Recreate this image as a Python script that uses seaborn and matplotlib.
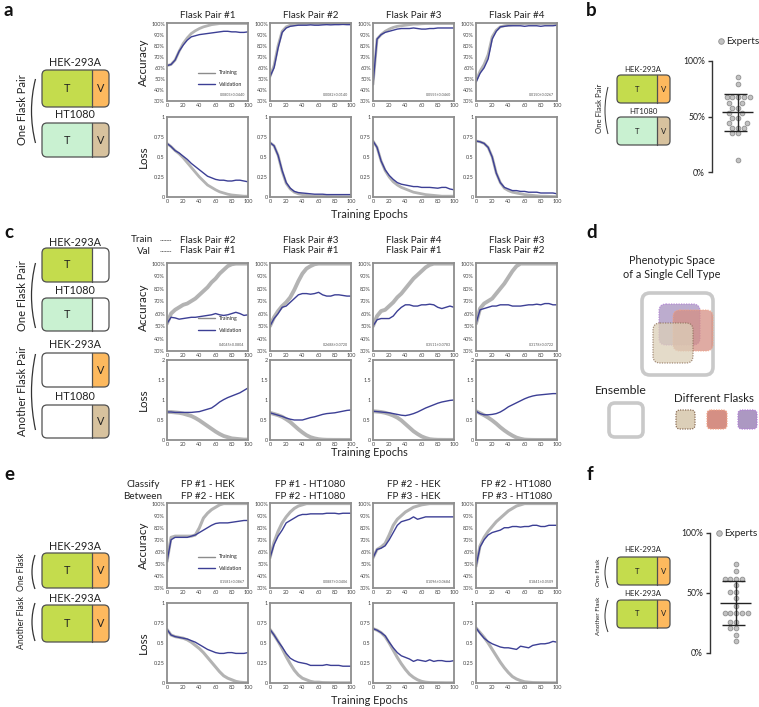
import math
import numpy as np
import pandas as pd
import matplotlib
matplotlib.use("Agg")
import matplotlib.pyplot as plt
import seaborn as sns
from matplotlib.patches import FancyBboxPatch, Rectangle, Arc
from matplotlib.lines import Line2D

# ---------------- data ----------------
EPOCHS = [0, 5, 10, 15, 20, 25, 30, 35, 40, 45, 50, 55, 60, 65, 70, 75, 80, 85, 90, 95, 100]

A_TITLES = ["Flask Pair #1", "Flask Pair #2", "Flask Pair #3", "Flask Pair #4"]
A_TRAIN_ACC = [
    [62, 63, 67, 75, 82, 87, 91, 93.5, 95.5, 97, 98, 99, 99.5, 100, 100, 100, 100, 100, 100, 100, 100],
    [52, 62, 80, 93, 97, 98.5, 99, 99.5, 99.8, 100, 100, 100, 100, 100, 100, 100, 100, 100, 100, 100, 100],
    [45, 86, 90, 93, 95, 96.5, 97.5, 98, 98.5, 99, 99.5, 99.5, 99.8, 100, 100, 100, 100, 100, 100, 100, 100],
    [48, 57, 63, 72, 88, 94, 97, 98, 98.5, 99, 99.5, 99.8, 100, 100, 100, 100, 100, 100, 100, 100, 100],
]
A_VAL_ACC = [
    [62, 63, 67, 75, 80.5, 85, 88, 89, 90, 90.5, 91, 91.5, 92, 92.5, 93, 93, 92.5, 92.5, 92, 92, 92.5],
    [52, 60, 78, 92, 96, 97.5, 98, 98.5, 98.5, 98.5, 98.8, 98.5, 98.5, 98.8, 99, 98.8, 99, 99, 99.2, 99, 99],
    [45, 86, 90, 92, 93, 94, 95, 95.5, 95.5, 95.5, 96, 95.5, 95, 95, 95.5, 95.5, 96, 96, 96, 96, 96],
    [47, 55, 60, 68, 86, 93, 97, 97.5, 98, 98, 98, 98, 97.5, 98, 98, 98, 97.5, 98, 98, 98, 98.5],
]
A_TRAIN_LOSS = [
    [0.67, 0.63, 0.58, 0.54, 0.49, 0.43, 0.37, 0.31, 0.25, 0.20, 0.15, 0.12, 0.09, 0.065, 0.05, 0.035, 0.025, 0.02, 0.015, 0.01, 0.01],
    [0.68, 0.64, 0.52, 0.32, 0.17, 0.10, 0.06, 0.04, 0.03, 0.02, 0.015, 0.01, 0.01, 0.008, 0.006, 0.005, 0.004, 0.004, 0.003, 0.003, 0.003],
    [0.70, 0.62, 0.45, 0.33, 0.25, 0.19, 0.15, 0.12, 0.10, 0.08, 0.06, 0.05, 0.04, 0.03, 0.025, 0.02, 0.015, 0.01, 0.01, 0.01, 0.01],
    [0.70, 0.69, 0.67, 0.62, 0.50, 0.30, 0.18, 0.11, 0.08, 0.06, 0.05, 0.04, 0.03, 0.025, 0.02, 0.015, 0.01, 0.01, 0.008, 0.006, 0.005],
]
A_VAL_LOSS = [
    [0.67, 0.63, 0.58, 0.55, 0.51, 0.47, 0.42, 0.38, 0.34, 0.30, 0.26, 0.24, 0.22, 0.21, 0.21, 0.20, 0.20, 0.21, 0.21, 0.20, 0.19],
    [0.68, 0.64, 0.52, 0.33, 0.18, 0.11, 0.07, 0.055, 0.05, 0.045, 0.04, 0.035, 0.035, 0.035, 0.03, 0.03, 0.03, 0.03, 0.03, 0.03, 0.03],
    [0.70, 0.62, 0.45, 0.34, 0.27, 0.22, 0.18, 0.16, 0.15, 0.14, 0.13, 0.13, 0.12, 0.12, 0.12, 0.115, 0.11, 0.12, 0.12, 0.10, 0.09],
    [0.70, 0.69, 0.67, 0.62, 0.50, 0.30, 0.18, 0.12, 0.10, 0.08, 0.08, 0.07, 0.07, 0.06, 0.06, 0.06, 0.05, 0.05, 0.05, 0.05, 0.04],
]
A_NOTES = ["0.0803±0.0440", "0.0082±0.0140", "0.0555±0.0460", "0.0150±0.0267"]

C_TITLES = ["Flask Pair #2\nFlask Pair #1", "Flask Pair #3\nFlask Pair #1",
            "Flask Pair #4\nFlask Pair #1", "Flask Pair #3\nFlask Pair #2"]
C_TRAIN_ACC = [
    [52, 60, 63, 65, 67, 68, 70, 72, 75, 78, 81, 85, 88, 92, 95, 98, 99.5, 100, 100, 100, 100],
    [50, 57, 62, 66, 69, 73, 79, 86, 92, 96, 98, 99.5, 100, 100, 100, 100, 100, 100, 100, 100, 100],
    [50, 58, 62, 63, 66, 69, 73, 76, 80, 84, 88, 91, 94, 97, 99, 100, 100, 100, 100, 100, 100],
    [52, 64, 68, 70, 72, 76, 80, 84, 89, 94, 98, 100, 100, 100, 100, 100, 100, 100, 100, 100, 100],
]
C_VAL_ACC = [
    [52, 57, 56.5, 55.5, 56, 56.5, 57, 57, 57.5, 58, 58.5, 59, 60, 59, 58.5, 59, 60, 61, 60, 58.5, 59],
    [50, 56, 60, 65, 66, 69, 72, 75, 76, 76, 75.5, 76, 77, 75, 74, 74, 75, 75, 74.5, 74, 74],
    [50, 55, 56, 56, 56, 58, 62, 65, 67, 67, 66, 66, 67, 67, 67.5, 67, 65, 64, 65, 66, 65],
    [52, 63, 64, 65, 66, 66, 67, 67, 67, 66, 66, 66, 66.5, 67, 67, 67.5, 67, 68, 68, 67, 67],
]
C_TRAIN_LOSS = [
    [0.70, 0.70, 0.69, 0.68, 0.66, 0.63, 0.60, 0.55, 0.49, 0.42, 0.35, 0.28, 0.21, 0.15, 0.10, 0.07, 0.04, 0.03, 0.02, 0.01, 0.01],
    [0.68, 0.65, 0.62, 0.58, 0.52, 0.45, 0.36, 0.27, 0.19, 0.12, 0.07, 0.04, 0.02, 0.01, 0.005, 0.004, 0.003, 0.003, 0.002, 0.002, 0.002],
    [0.72, 0.71, 0.70, 0.68, 0.65, 0.61, 0.56, 0.49, 0.40, 0.31, 0.22, 0.15, 0.09, 0.05, 0.02, 0.01, 0.005, 0.004, 0.003, 0.003, 0.003],
    [0.72, 0.67, 0.62, 0.56, 0.49, 0.41, 0.32, 0.24, 0.17, 0.11, 0.06, 0.03, 0.01, 0.005, 0.003, 0.002, 0.002, 0.002, 0.002, 0.002, 0.002],
]
C_VAL_LOSS = [
    [0.70, 0.70, 0.69, 0.69, 0.69, 0.69, 0.69, 0.70, 0.71, 0.74, 0.77, 0.80, 0.87, 0.95, 1.01, 1.06, 1.10, 1.14, 1.18, 1.24, 1.30],
    [0.68, 0.65, 0.62, 0.59, 0.55, 0.52, 0.50, 0.50, 0.50, 0.53, 0.56, 0.58, 0.61, 0.64, 0.66, 0.67, 0.68, 0.70, 0.72, 0.74, 0.75],
    [0.72, 0.71, 0.70, 0.69, 0.68, 0.66, 0.64, 0.62, 0.61, 0.63, 0.66, 0.70, 0.75, 0.80, 0.84, 0.88, 0.92, 0.95, 0.97, 0.99, 1.00],
    [0.72, 0.66, 0.63, 0.63, 0.64, 0.66, 0.70, 0.76, 0.83, 0.88, 0.93, 0.98, 1.03, 1.07, 1.10, 1.12, 1.13, 1.14, 1.15, 1.16, 1.16],
]
C_NOTES = ["0.4045±0.0804", "0.2688±0.0720", "0.3511±0.0783", "0.3178±0.0722"]

E_TITLES = ["FP #1 - HEK\nFP #2 - HEK", "FP #1 - HT1080\nFP #2 - HT1080",
            "FP #2 - HEK\nFP #3 - HEK", "FP #2 - HT1080\nFP #3 - HT1080"]
E_TRAIN_ACC = [
    [52, 72, 73, 73, 73, 73, 73, 74, 80, 88, 92, 95, 97, 99, 100, 100, 100, 100, 100, 100, 100],
    [55, 68, 77, 84, 89, 93, 96, 98, 99, 100, 100, 100, 100, 100, 100, 100, 100, 100, 100, 100, 100],
    [55, 62, 64, 67, 74, 82, 87, 90, 93, 95, 97, 98, 99, 99.5, 100, 100, 100, 100, 100, 100, 100],
    [48, 65, 72, 77, 81, 85, 88, 91, 94, 96, 98, 99, 100, 100, 100, 100, 100, 100, 100, 100, 100],
]
E_VAL_ACC = [
    [52, 70, 72, 72, 72, 72, 73, 74, 76, 78, 80, 82, 83.5, 84, 84, 84, 84.5, 85, 85.5, 86, 86],
    [55, 66, 73, 78, 84, 86, 88, 90, 91, 91, 91.5, 91.5, 91.5, 91.5, 92, 92, 92, 91.5, 92, 92, 92],
    [55, 62, 63, 65, 70, 76, 82, 85, 86, 87, 89, 87, 88, 89, 89, 89, 89, 89, 89, 89, 89],
    [48, 64, 70, 74, 76, 77, 78, 80, 80, 81, 81, 80.5, 81, 81, 82, 82, 81, 81, 82, 82, 82],
]
E_TRAIN_LOSS = [
    [0.67, 0.60, 0.58, 0.57, 0.56, 0.54, 0.51, 0.47, 0.43, 0.38, 0.32, 0.26, 0.20, 0.14, 0.09, 0.06, 0.04, 0.02, 0.01, 0.005, 0.003],
    [0.67, 0.60, 0.52, 0.43, 0.33, 0.24, 0.16, 0.10, 0.06, 0.04, 0.02, 0.01, 0.01, 0.005, 0.004, 0.003, 0.003, 0.002, 0.002, 0.002, 0.002],
    [0.68, 0.66, 0.63, 0.58, 0.50, 0.41, 0.32, 0.24, 0.17, 0.11, 0.07, 0.04, 0.02, 0.01, 0.005, 0.004, 0.003, 0.003, 0.002, 0.002, 0.002],
    [0.69, 0.63, 0.57, 0.50, 0.42, 0.34, 0.26, 0.19, 0.13, 0.08, 0.05, 0.03, 0.015, 0.01, 0.005, 0.004, 0.003, 0.003, 0.002, 0.002, 0.002],
]
E_VAL_LOSS = [
    [0.67, 0.60, 0.58, 0.57, 0.56, 0.55, 0.53, 0.51, 0.48, 0.45, 0.42, 0.40, 0.38, 0.37, 0.37, 0.38, 0.38, 0.37, 0.37, 0.37, 0.38],
    [0.67, 0.60, 0.52, 0.45, 0.37, 0.31, 0.28, 0.26, 0.25, 0.24, 0.22, 0.22, 0.22, 0.22, 0.23, 0.22, 0.22, 0.22, 0.21, 0.21, 0.21],
    [0.68, 0.66, 0.63, 0.59, 0.51, 0.44, 0.38, 0.34, 0.32, 0.30, 0.27, 0.29, 0.28, 0.27, 0.29, 0.27, 0.28, 0.28, 0.27, 0.27, 0.28],
    [0.69, 0.62, 0.56, 0.52, 0.49, 0.47, 0.45, 0.44, 0.44, 0.43, 0.42, 0.46, 0.45, 0.44, 0.47, 0.48, 0.49, 0.49, 0.50, 0.52, 0.51],
]
E_NOTES = ["0.1581±0.0867", "0.0887±0.0406", "0.1096±0.0684", "0.1841±0.0509"]

B_EXPERTS = [86, 79, 68, 68, 68, 68, 68, 62, 62, 58, 58, 53, 53, 49, 49, 44, 44, 40, 40, 40, 35, 35, 11]
F_EXPERTS = [74, 68, 62, 62, 62, 62, 57, 51, 51, 46, 39, 33, 33, 33, 33, 33, 26, 26, 21, 21, 15, 10]

ACC_TICKS = [30, 40, 50, 60, 70, 80, 90, 100]
ACC_LABELS = ["30%", "40%", "50%", "60%", "70%", "80%", "90%", "100%"]
LOSS1_TICKS = [0, 0.25, 0.5, 0.75, 1]
LOSS1_LABELS = ["0", "0.25", "0.5", "0.75", "1"]
LOSS2_TICKS = [0, 0.5, 1, 1.5, 2]
LOSS2_LABELS = ["0", "0.5", "1", "1.5", "2"]
X_TICKS = [0, 20, 40, 60, 80, 100]

# ---------------- style ----------------
sns.set_theme(style="white")
plt.rcParams["font.family"] = ["Lato", "DejaVu Sans"]
TXT = "#222222"
TRAIN_C = "#b3b3b3"
VAL_C = "#3c3f95"
SPINE_C = "#8e8e8e"
GREEN = "#c4dc4d"
ORANGE = "#fdb95e"
MINT = "#c9f1d1"
TAN = "#d7c29e"
EDGE = "#505050"

W, H = 759, 707
fig = plt.figure(figsize=(W / 100, H / 100), dpi=100)
fig.patch.set_facecolor("white")


def add_ax(x, y, w, h):
    return fig.add_axes([x / W, 1 - (y + h) / H, w / W, h / H])


ov = add_ax(0, 0, W, H)
ov.set_xlim(0, W)
ov.set_ylim(H, 0)
ov.axis("off")
ov.patch.set_alpha(0)
ov.set_zorder(10)

COLS = [167, 270, 373, 476]
CW = 81


def style_curve_ax(ax, ylim, yt, ytl):
    ax.set_xlim(0, 100)
    ax.set_ylim(*ylim)
    ax.set_xticks(X_TICKS)
    ax.set_xticklabels([str(v) for v in X_TICKS])
    ax.set_yticks(yt)
    ax.set_yticklabels(ytl)
    ax.tick_params(axis="both", length=0, pad=1.5, labelsize=4.0, labelcolor="#444444")
    for sp in ax.spines.values():
        sp.set_color(SPINE_C)
        sp.set_linewidth(1.3)
    ax.set_xlabel("")
    ax.set_ylabel("")
    ax.set_facecolor("white")


def curve_panel(rows, train_acc, val_acc, train_loss, val_loss, notes, loss_ticks, loss_labels, loss_max, train_lw):
    (ya, ha), (yl, hl) = rows
    first = None
    for i, x in enumerate(COLS):
        axa = add_ax(x, ya, CW, ha)
        sns.lineplot(x=EPOCHS, y=train_acc[i], ax=axa, color=TRAIN_C, linewidth=train_lw, legend=False)
        sns.lineplot(x=EPOCHS, y=val_acc[i], ax=axa, color=VAL_C, linewidth=1.0, legend=False)
        style_curve_ax(axa, (30, 100.5), ACC_TICKS, ACC_LABELS)
        axa.text(0.96, 0.05, notes[i], transform=axa.transAxes, ha="right", va="bottom",
                 fontsize=2.6, color="#555555")
        axl = add_ax(x, yl, CW, hl)
        sns.lineplot(x=EPOCHS, y=train_loss[i], ax=axl, color=TRAIN_C, linewidth=train_lw, legend=False)
        sns.lineplot(x=EPOCHS, y=val_loss[i], ax=axl, color=VAL_C, linewidth=1.0, legend=False)
        style_curve_ax(axl, (0, loss_max), loss_ticks, loss_labels)
        if i == 0:
            first = axa
    handles = [Line2D([], [], color="#8c8c8c", lw=1.0, label="Training"),
               Line2D([], [], color=VAL_C, lw=1.0, label="Validation")]
    first.legend(handles=handles, loc="upper left", bbox_to_anchor=(0.36, 0.42), frameon=False,
                 fontsize=3.8, handlelength=3.2, labelspacing=1.3, borderaxespad=0, handletextpad=0.8)
    ov.text(143, ya + ha / 2, "Accuracy", rotation=90, ha="center", va="center", fontsize=8.4, color=TXT)
    ov.text(143, yl + hl / 2, "Loss", rotation=90, ha="center", va="center", fontsize=8.4, color=TXT)


A_ROWS = ((23, 78), (117, 80))
C_ROWS = ((263, 88), (360, 80))
E_ROWS = ((503, 85), (603, 80))

curve_panel(A_ROWS, A_TRAIN_ACC, A_VAL_ACC, A_TRAIN_LOSS, A_VAL_LOSS, A_NOTES, LOSS1_TICKS, LOSS1_LABELS, 1.0, 2.0)
curve_panel(C_ROWS, C_TRAIN_ACC, C_VAL_ACC, C_TRAIN_LOSS, C_VAL_LOSS, C_NOTES, LOSS2_TICKS, LOSS2_LABELS, 2.0, 2.8)
curve_panel(E_ROWS, E_TRAIN_ACC, E_VAL_ACC, E_TRAIN_LOSS, E_VAL_LOSS, E_NOTES, LOSS1_TICKS, LOSS1_LABELS, 1.0, 2.2)

# titles
for i, x in enumerate(COLS):
    cx = x + CW / 2
    ov.text(cx, 15, A_TITLES[i], ha="center", va="center", fontsize=7.1, color=TXT)
    ov.text(cx, 245.5, C_TITLES[i], ha="center", va="center", fontsize=7.1, color=TXT, linespacing=1.1)
    ov.text(cx, 490.5, E_TITLES[i], ha="center", va="center", fontsize=7.1, color=TXT, linespacing=1.45)

for yy in (215, 452, 700):
    ov.text(369, yy, "Training Epochs", ha="center", va="center", fontsize=7.8, color=TXT)

# c legend (train/val flask pairs)
ov.text(153, 240, "Train", ha="right", va="center", fontsize=7.1, color=TXT)
ov.text(151, 251, "Val", ha="right", va="center", fontsize=7.1, color=TXT)
ov.plot([160, 171], [240, 240], ls=(0, (1, 0.6)), color="#666666", lw=0.7)
ov.plot([160, 171], [251, 251], ls=(0, (1, 0.6)), color="#666666", lw=0.7)

ov.text(143, 490.5, "Classify\nBetween", ha="center", va="center", fontsize=7.1, color=TXT, linespacing=1.45)

# panel letters
for lx, ly, lt in [(4, 10, "a"), (586, 10, "b"), (4, 232, "c"), (586, 233, "d"), (4, 474, "e"), (587, 474, "f")]:
    ov.text(lx, ly, lt, ha="left", va="center", fontsize=13.5, fontweight="bold", color="#111111")


# ---------------- schematics ----------------
def flask(x0, y0, x1, y1, xs, tcol, vcol, tl, vl, fs, rs=5):
    box = FancyBboxPatch((x0, y0), x1 - x0, y1 - y0, boxstyle=f"round,pad=0,rounding_size={rs}",
                         fc="none", ec=EDGE, lw=0.9, zorder=3)
    ov.add_patch(box)
    r1 = Rectangle((x0, y0), xs - x0, y1 - y0, fc=tcol, ec="none", zorder=2)
    r2 = Rectangle((xs, y0), x1 - xs, y1 - y0, fc=vcol, ec="none", zorder=2)
    ov.add_patch(r1)
    ov.add_patch(r2)
    r1.set_clip_path(box)
    r2.set_clip_path(box)
    ov.plot([xs, xs], [y0, y1], color=EDGE, lw=0.9, zorder=3)
    if tl:
        ov.text((x0 + xs) / 2, (y0 + y1) / 2, tl, ha="center", va="center", fontsize=fs, color=TXT, zorder=4)
    if vl:
        ov.text((xs + x1) / 2, (y0 + y1) / 2, vl, ha="center", va="center", fontsize=fs, color=TXT, zorder=4)


def brace(x_end, x_mid, y0, y1, lw=0.9):
    h = (y1 - y0) / 2
    s = x_end - x_mid
    r = (h * h + s * s) / (2 * s)
    ang = math.degrees(math.asin(h / r))
    ov.add_patch(Arc((x_mid + r, (y0 + y1) / 2), 2 * r, 2 * r, theta1=180 - ang, theta2=180 + ang,
                     color="#333333", lw=lw))


def label(x, y, s, fs, rot=0):
    ov.text(x, y, s, ha="center", va="center", fontsize=fs, color=TXT, rotation=rot)


# a
label(75, 62, "HEK-293A", 7.8)
flask(42, 70, 109, 107, 92, GREEN, ORANGE, "T", "V", 7.8)
label(75, 115, "HT1080", 7.8)
flask(42, 123, 109, 157, 92, MINT, TAN, "T", "V", 7.8)
label(23, 110, "One Flask Pair", 8.0, 90)
brace(35.5, 31.5, 79, 143)

# b
label(643, 69, "HEK-293A", 5.6)
flask(617, 75, 670, 103, 657, GREEN, ORANGE, "T", "V", 5.6, rs=4)
label(643, 112, "HT1080", 5.6)
flask(617, 117, 670, 145, 657, MINT, TAN, "T", "V", 5.6, rs=4)
label(600, 108, "One Flask Pair", 5.6, 90)
brace(608, 605, 87, 134, lw=0.7)

# c
label(75, 242, "HEK-293A", 7.8)
flask(42, 248, 109, 282, 92, GREEN, "white", "T", "", 7.8)
label(75, 290, "HT1080", 7.8)
flask(42, 298, 109, 331, 92, MINT, "white", "T", "", 7.8)
label(23, 296, "One Flask Pair", 8.0, 90)
brace(35.5, 31.5, 263, 328)
label(75, 345, "HEK-293A", 7.8)
flask(42, 353, 109, 387, 92, "white", ORANGE, "", "V", 7.8)
label(75, 397, "HT1080", 7.8)
flask(42, 405, 109, 438, 92, "white", TAN, "", "V", 7.8)
label(23, 391, "Another Flask Pair", 8.0, 90)
brace(35.5, 31.5, 354, 430)

# e
label(75, 547, "HEK-293A", 7.8)
flask(42, 553, 109, 588, 92, GREEN, ORANGE, "T", "V", 7.8)
label(75, 598, "HEK-293A", 7.8)
flask(42, 605, 109, 642, 92, GREEN, ORANGE, "T", "V", 7.8)
label(22, 572, "One Flask", 6.2, 90)
label(22, 623, "Another Flask", 6.2, 90)
brace(35, 32, 555, 589)
brace(35, 32, 603, 641)

# f
label(643, 550, "HEK-293A", 5.6)
flask(617, 557, 670, 585, 657, GREEN, ORANGE, "T", "V", 5.6, rs=4)
label(643, 594, "HEK-293A", 5.6)
flask(617, 600, 670, 628, 657, GREEN, ORANGE, "T", "V", 5.6, rs=4)
label(599, 572, "One Flask", 4.5, 90)
label(599, 616, "Another Flask", 4.5, 90)
brace(608, 605, 557, 588, lw=0.7)
brace(608, 605, 600, 632, lw=0.7)

# ---------------- d ----------------
label(672, 260, "Phenotypic Space", 7.8)
label(672, 274, "of a Single Cell Type", 7.8)


def rbox(x0, y0, x1, y1, fc, ec, lw, ls="-", alpha=1.0, rs=7, z=3):
    p = FancyBboxPatch((x0, y0), x1 - x0, y1 - y0, boxstyle=f"round,pad=0,rounding_size={rs}",
                       fc=fc, ec=ec, lw=lw, ls=ls, alpha=alpha, zorder=z)
    ov.add_patch(p)


PURPLE_F, PURPLE_E = "#ac98c2", "#b27fd6"
RED_F, RED_E = "#d58f84", "#f2a487"
BEIGE_F, BEIGE_E = "#dccfb8", "#8a6c55"

rbox(642, 293, 713, 375, "none", "#c9c9c9", 2.6, rs=8)
rbox(659, 304, 700, 345, PURPLE_F, PURPLE_E, 0.9, ls=(0, (1, 1)), alpha=0.8)
rbox(673, 310, 713, 351, RED_F, RED_E, 0.9, ls=(0, (1, 1)), alpha=0.75)
rbox(653, 323, 693, 363, BEIGE_F, BEIGE_E, 0.9, ls=(0, (1, 1)), alpha=0.75)

label(621, 391, "Ensemble", 8.8)
rbox(609, 403, 643, 437, "none", "#c9c9c9", 2.6, rs=6)
label(714, 399, "Different Flasks", 8.3)
rbox(676, 410, 695, 429, BEIGE_F, BEIGE_E, 0.9, ls=(0, (1, 1)), rs=4)
rbox(707, 410, 727, 429, RED_F, RED_E, 0.9, ls=(0, (1, 1)), rs=4)
rbox(738, 410, 757, 429, PURPLE_F, PURPLE_E, 0.9, ls=(0, (1, 1)), rs=4)


# ---------------- b / f experts ----------------
def experts(ax, vals):
    sns.swarmplot(y=vals, ax=ax, color="#c2c2c2", edgecolor="#8f8f8f", linewidth=0.6, size=3.4)
    arr = np.array(vals, dtype=float)
    m, sd = arr.mean(), arr.std(ddof=1)
    ax.hlines(m, -0.34, 0.32, color="#222222", lw=1.0, zorder=5)
    ax.hlines([m - sd, m + sd], -0.30, 0.18, color="#222222", lw=1.0, zorder=5)
    ax.vlines(0, m - sd, m + sd, color="#222222", lw=1.0, zorder=5)
    ax.set_xlim(-0.56, 0.44)
    ax.set_ylim(0, 100)
    ax.set_yticks([0, 50, 100])
    ax.set_yticklabels(["0%", "50%", "100%"])
    ax.set_xticks([])
    for k in ("top", "right", "bottom"):
        ax.spines[k].set_visible(False)
    ax.spines["left"].set_color("#333333")
    ax.spines["left"].set_linewidth(1.0)
    ax.tick_params(axis="y", length=3, width=1.0, color="#333333", direction="out", pad=2,
                   labelsize=6.2, labelcolor=TXT, left=True)
    ax.set_facecolor("none")
    ax.set_ylabel("")


axb = add_ax(712, 61, 47, 111)
experts(axb, B_EXPERTS)
axf = add_ax(710, 533, 47, 120)
experts(axf, F_EXPERTS)

for mx, my in [(721, 41), (719, 533)]:
    ov.scatter([mx], [my], s=16, c="#c2c2c2", edgecolors="#8f8f8f", linewidths=0.6, zorder=6)
    ov.text(mx + 5, my, "Experts", ha="left", va="center", fontsize=7.2, color=TXT)

fig.savefig("out.png", dpi=100, facecolor="white")
